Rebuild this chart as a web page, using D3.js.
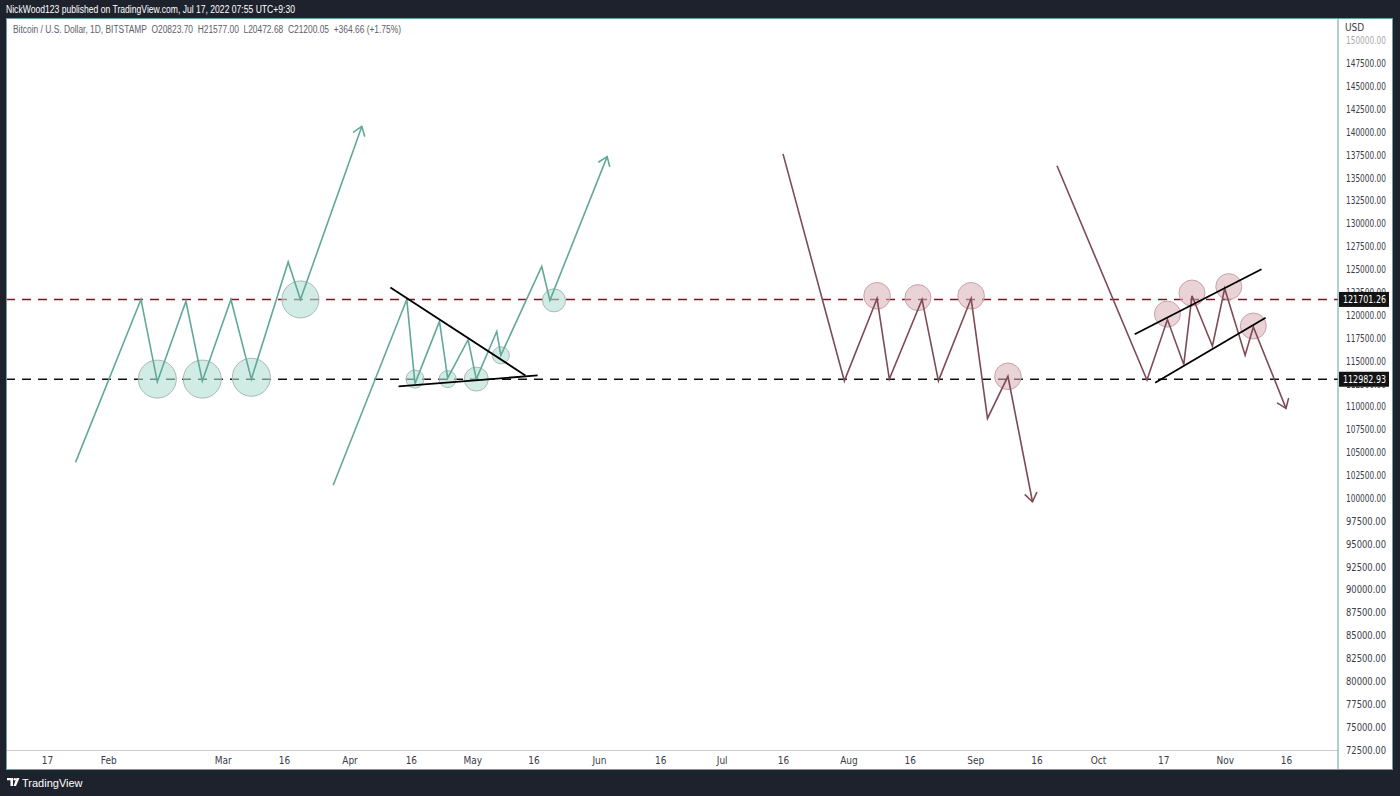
<!DOCTYPE html>
<html><head><meta charset="utf-8">
<script src="https://cdn.jsdelivr.net/npm/d3@7"></script>
<style>
html,body{margin:0;padding:0;background:#1e222d;}
svg{display:block;font-family:"Liberation Sans",Arial,sans-serif;}
</style></head>
<body>
<svg id="c" width="1400" height="796"></svg>
<script>
// ---------- data ----------
const headerText = "NickWood123 published on TradingView.com, Jul 17, 2022 07:55 UTC+9:30";
const legendText = "Bitcoin / U.S. Dollar, 1D, BITSTAMP  O20823.70  H21577.00  L20472.68  C21200.05  +364.66 (+1.75%)";

const xTickDates  = ["2023-01-17","2023-02-01","2023-03-01","2023-03-16","2023-04-01","2023-04-16","2023-05-01","2023-05-16","2023-06-01","2023-06-16","2023-07-01","2023-07-16","2023-08-01","2023-08-16","2023-09-01","2023-09-16","2023-10-01","2023-10-17","2023-11-01","2023-11-16"];
const xTickLabels = ["17","Feb","Mar","16","Apr","16","May","16","Jun","16","Jul","16","Aug","16","Sep","16","Oct","17","Nov","16"];
const yTickValues = [72500,75000,77500,80000,82500,85000,87500,90000,92500,95000,97500,100000,102500,105000,107500,110000,112500,115000,117500,120000,122500,125000,127500,130000,132500,135000,137500,140000,142500,145000,147500,150000];

const resistanceLevel = 121701.26;
const supportLevel = 112982.93;

// green bullish path 1 (triple bottom then breakout)
const greenPath1 = [["2023-01-24",103900],["2023-02-09",121700],["2023-02-13",112700],["2023-02-20",121500],["2023-02-24",112800],["2023-03-03",121700],["2023-03-08",113000],["2023-03-17",125800],["2023-03-20",121700],["2023-04-04",140600]];
const greenCircles1 = [["2023-02-13",113000],["2023-02-24",113000],["2023-03-08",113200],["2023-03-20",121700]];

// green bullish path 2 (triangle)
const greenPath2 = [["2023-03-28",101400],["2023-04-15",121700],["2023-04-17",112500],["2023-04-23",119300],["2023-04-25",113100],["2023-04-30",117300],["2023-05-02",113000],["2023-05-07",118200],["2023-05-08",115600],["2023-05-18",125300],["2023-05-20",121600],["2023-06-03",137300]];
const greenCircles2 = [["2023-04-17",113000],["2023-04-25",113000],["2023-05-02",113000],["2023-05-08",115600],["2023-05-21",121600]];
const triangleUpper = [["2023-04-11",123000],["2023-05-14",113400]];
const triangleLower = [["2023-04-13",112200],["2023-05-17",113400]];

// red bearish path 1 (triple top then breakdown)
const redPath1 = [["2023-07-16",137600],["2023-07-31",112800],["2023-08-08",121800],["2023-08-11",113000],["2023-08-19",121700],["2023-08-23",112800],["2023-08-31",121800],["2023-09-04",108700],["2023-09-09",113300],["2023-09-15",99600]];
const redCircles1 = [["2023-08-08",122100],["2023-08-18",121900],["2023-08-31",122100],["2023-09-09",113300]];

// red bearish path 2 (rising channel)
const redPath2 = [["2023-09-21",136300],["2023-10-13",112900],["2023-10-18",119500],["2023-10-22",114600],["2023-10-24",122100],["2023-10-29",116600],["2023-11-01",122900],["2023-11-06",115600],["2023-11-08",118700],["2023-11-16",109800]];
const redCircles2 = [["2023-10-18",120100],["2023-10-24",122400],["2023-11-02",123100],["2023-11-08",118800]];
const channelUpper = [["2023-10-10",117900],["2023-11-10",125000]];
const channelLower = [["2023-10-15",112600],["2023-11-11",119700]];

// ---------- layout ----------
const svg = d3.select("#c");
const P = {left:6, right:1338, top:18, bottom:750, panelRight:1393, panelBottom:770};
const axisFont = "'DejaVu Sans Condensed','DejaVu Sans',sans-serif";

const x = d3.scaleUtc()
  .domain([new Date("2023-01-07T00:00:00Z"), new Date("2023-11-28T17:00:00Z")])
  .range([P.left, P.right]);
const y = d3.scaleLinear().domain([72500,150000]).range([749.8, 40.4]);

const pt = d => [x(new Date(d[0]+"T00:00:00Z")), y(d[1])];

// background panel
svg.append("rect").attr("x",0).attr("y",0).attr("width",1400).attr("height",796).attr("fill","#1e222d");
svg.append("rect").attr("x",P.left).attr("y",P.top).attr("width",P.panelRight-P.left).attr("height",P.panelBottom-P.top).attr("fill","#ffffff");

// header
svg.append("text").attr("x",6).attr("y",13).attr("fill","#ffffff").attr("font-size",11.5)
  .attr("textLength",289).attr("lengthAdjust","spacingAndGlyphs").text(headerText);
svg.append("text").attr("x",13).attr("y",33).attr("fill","#5d606b").attr("font-size",10)
  .attr("textLength",388).attr("lengthAdjust","spacingAndGlyphs").style("white-space","pre").text(legendText);

const plot = svg.append("g");
plot.append("clipPath").attr("id","clip").append("rect")
  .attr("x",P.left).attr("y",P.top).attr("width",P.right-P.left).attr("height",P.bottom-P.top);
const g = plot.append("g").attr("clip-path","url(#clip)");

// horizontal levels
g.append("line").attr("x1",P.left).attr("x2",P.right).attr("y1",y(resistanceLevel)).attr("y2",y(resistanceLevel))
  .attr("stroke","#7a1628").attr("stroke-width",1.6).attr("stroke-dasharray","9,7");
g.append("line").attr("x1",P.left).attr("x2",P.right).attr("y1",y(supportLevel)).attr("y2",y(supportLevel))
  .attr("stroke","#111111").attr("stroke-width",1.6).attr("stroke-dasharray","9,7");

const line = d3.line().x(d=>pt(d)[0]).y(d=>pt(d)[1]);

function circles(data, radii, fill, stroke){
  g.selectAll(null).data(data).enter().append("circle")
    .attr("cx",d=>pt(d)[0]).attr("cy",d=>pt(d)[1]).attr("r",(d,i)=>radii[i])
    .attr("fill",fill).attr("stroke",stroke).attr("stroke-width",1);
}
function path(data, color){
  g.append("path").attr("d",line(data)).attr("fill","none").attr("stroke",color)
    .attr("stroke-width",1.6).attr("stroke-linejoin","miter");
  const a = pt(data[data.length-2]), b = pt(data[data.length-1]);
  const ang = Math.atan2(b[1]-a[1], b[0]-a[0]);
  const L = 10, spread = Math.PI/5;
  [ang+Math.PI-spread, ang+Math.PI+spread].forEach(t=>{
    g.append("line").attr("x1",b[0]).attr("y1",b[1])
      .attr("x2",b[0]+L*Math.cos(t)).attr("y2",b[1]+L*Math.sin(t))
      .attr("stroke",color).attr("stroke-width",1.6).attr("stroke-linecap","round");
  });
}
function seg(data){
  g.append("path").attr("d",line(data)).attr("stroke","#000").attr("stroke-width",1.8).attr("fill","none");
}

const gFill="rgba(178,223,210,0.6)", gStroke="#a9b9b2";
const rFill="rgba(215,175,182,0.55)", rStroke="#c8a2a8";
const green="#62a89a", red="#7d4c55";

circles(greenCircles1,[19,19,19,18.5],gFill,gStroke);
circles(greenCircles2,[9,8.5,12,8.5,11.5],gFill,gStroke);
circles(redCircles1,[13.3,13,13.3,13.3],rFill,rStroke);
circles(redCircles2,[13,13,13,13],rFill,rStroke);

path(greenPath1, green);
path(greenPath2, green);
path(redPath1, red);
path(redPath2, red);

seg(triangleUpper); seg(triangleLower);
seg(channelUpper); seg(channelLower);

// time axis
const xAxis = d3.axisBottom(x)
  .tickValues(xTickDates.map(s=>new Date(s+"T00:00:00Z")))
  .tickFormat((d,i)=>xTickLabels[i]).tickSize(0).tickPadding(5);
const xg = svg.append("g").attr("transform",`translate(0,${P.bottom})`).call(xAxis);
xg.select(".domain").attr("stroke","#d8c5c7").attr("stroke-width",1);
xg.selectAll("text").attr("fill","#3a3d47").attr("font-size",10).attr("font-family",axisFont).attr("dy","0.9em");

// price axis
const yAxis = d3.axisRight(y).tickValues(yTickValues).tickFormat(d3.format(".2f")).tickSize(0).tickPadding(8);
const yg = svg.append("g").attr("transform",`translate(${P.right},0)`).call(yAxis);
yg.select(".domain").remove();
yg.selectAll("text").attr("fill","#3a3d47").attr("font-size",10.5).attr("font-family",axisFont)
  .attr("textLength",40).attr("lengthAdjust","spacingAndGlyphs")
  .attr("opacity",d=>d===150000?0.45:1);
svg.append("text").attr("x",1345).attr("y",31).attr("fill","#3a3d47").attr("font-size",10).attr("font-family",axisFont).text("USD");

// level labels
[resistanceLevel, supportLevel].forEach(v=>{
  const yy = y(v);
  svg.append("rect").attr("x",1339).attr("y",yy-7.5).attr("width",50).attr("height",15).attr("fill","#131313");
  svg.append("text").attr("x",1343).attr("y",yy+4).attr("fill","#fff").attr("font-size",10.5)
    .attr("font-family",axisFont).attr("textLength",43).attr("lengthAdjust","spacingAndGlyphs").text(d3.format(".2f")(v));
});

// frame lines
svg.append("line").attr("x1",P.right).attr("x2",P.right).attr("y1",P.top).attr("y2",P.panelBottom).attr("stroke","#5f9ea0").attr("stroke-width",1);
svg.append("rect").attr("x",P.left+0.5).attr("y",P.top+0.5).attr("width",P.panelRight-P.left-1).attr("height",P.panelBottom-P.top-1)
  .attr("fill","none").attr("stroke","#6a9fa3").attr("stroke-width",1);

// logo
const logo = svg.append("g").attr("transform","translate(7,778)");
logo.append("path").attr("d","M0,0 H6 V8 H3.5 V2.3 H0 Z").attr("fill","#fff");
logo.append("circle").attr("cx",7.8).attr("cy",1.3).attr("r",1.3).attr("fill","#fff");
logo.append("path").attr("d","M9.5,0 H12.5 L9,8 H6.5 Z").attr("fill","#fff");
svg.append("text").attr("x",22).attr("y",787).attr("fill","#fff").attr("font-size",11).text("TradingView");
</script>
</body></html>
